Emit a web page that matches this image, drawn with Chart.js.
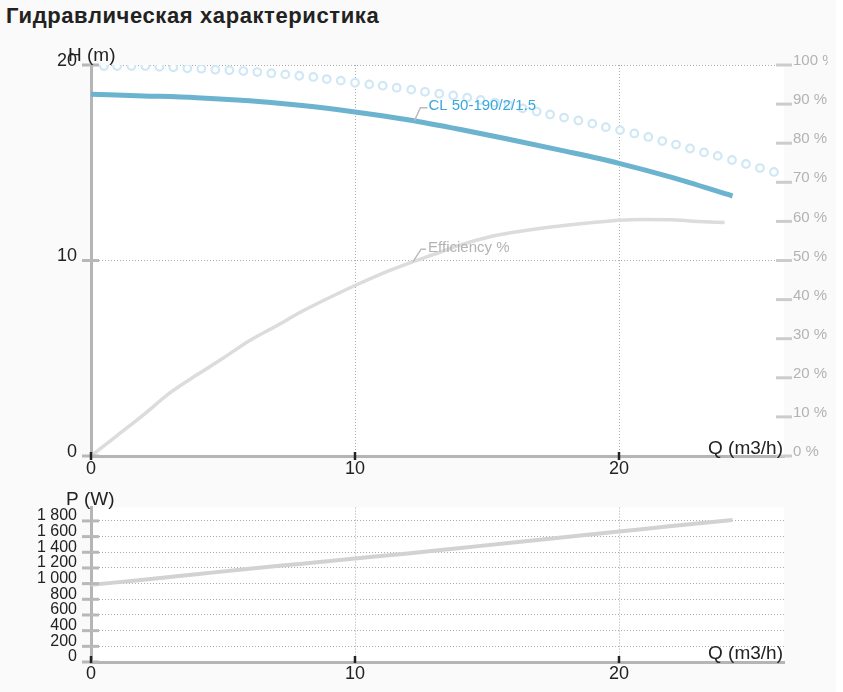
<!DOCTYPE html>
<html>
<head>
<meta charset="utf-8">
<title>Гидравлическая характеристика</title>
<script src="https://cdn.jsdelivr.net/npm/chart.js@4.4.0/dist/chart.umd.min.js"></script>
<style>
  body { margin: 0; background: #fff; }
  #wrap { position: relative; width: 836px; height: 692px; background: #fafafa; }
  h3 { position: absolute; left: 6px; top: 5px; margin: 0; font: bold 22px/21px "Liberation Sans", Arial, sans-serif; letter-spacing: 0.6px; color: #222; }
  canvas { position: absolute; left: 0; }
</style>
</head>
<body>
<div id="wrap">
  <h3>Гидравлическая характеристика</h3>
  <canvas id="headChart" width="828" height="484" style="top:0"></canvas>
  <canvas id="powerChart" width="828" height="208" style="top:484px"></canvas>
</div>
<script>
// head curve CL 50-190/2/1.5
const headFlow = [0, 2, 4, 6, 8, 10, 12, 14, 16, 18, 20, 22, 24.3];
const headValues = [18.5, 18.42, 18.33, 18.17, 17.93, 17.6, 17.2, 16.7, 16.15, 15.58, 14.97, 14.25, 13.3];

// dotted (circles) curve
const dotFlow = [0.49, 0.99, 1.53, 2.06, 2.59, 3.12, 3.65, 4.18, 4.71, 5.24, 5.77, 6.30, 6.83, 7.36, 7.89,
  8.42, 8.93, 9.46, 10.0, 10.54, 11.05, 11.58, 12.13, 12.65, 13.19, 13.72, 14.25, 14.76, 15.30, 15.81,
  16.35, 16.88, 17.39, 17.92, 18.46, 18.99, 19.50, 20.04, 20.58, 21.11, 21.64, 22.16, 22.69, 23.22,
  23.74, 24.28, 24.81, 25.34, 25.87];
const dotValues = [19.95, 19.95, 19.95, 19.95, 19.91, 19.88, 19.83, 19.81, 19.76, 19.73, 19.69, 19.64, 19.58,
  19.52, 19.45, 19.39, 19.28, 19.20, 19.09, 19.01, 18.94, 18.84, 18.74, 18.63, 18.53, 18.44, 18.33, 18.21,
  18.08, 17.95, 17.78, 17.62, 17.47, 17.31, 17.16, 17.00, 16.82, 16.67, 16.50, 16.32, 16.11, 15.93, 15.73,
  15.53, 15.35, 15.14, 14.94, 14.73, 14.53];

// efficiency %
const effFlow = [0, 1, 2, 3, 4, 5, 6, 7, 8, 9, 10, 11, 12, 13, 14, 15, 16, 17, 18, 19, 20, 21, 22, 23, 24];
const effValues = [0, 5.3, 10.6, 16.2, 20.7, 25.0, 29.5, 33.2, 37.0, 40.4, 43.6, 46.6, 49.2, 51.6, 54.0,
  55.9, 57.2, 58.2, 59.0, 59.7, 60.3, 60.5, 60.4, 60.0, 59.7];

// power W
const powerFlow = [0, 2, 4, 6, 8, 10, 12, 14, 16, 18, 20, 22, 24.3];
const powerValues = [985, 1050, 1120, 1190, 1255, 1320, 1385, 1455, 1525, 1595, 1665, 1735, 1812];

const flowTicks = [0, 10, 20];
const headTicks = [0, 10, 20];
const effTicks = [0, 10, 20, 30, 40, 50, 60, 70, 80, 90, 100];
const powerTicks = [0, 200, 400, 600, 800, 1000, 1200, 1400, 1600, 1800];

const curveName = 'CL 50-190/2/1.5';
const effName = 'Efficiency %';

const pts = (xs, ys) => xs.map((x, i) => ({x: x, y: ys[i]}));

Chart.defaults.font.family = "'Liberation Sans', Arial, sans-serif";
Chart.defaults.color = '#222';

const GRID = '#aaaaaa';
const hideZero = ctx => (ctx.tick && ctx.tick.value === 0 ? 'transparent' : GRID);

const plotBg = {
  id: 'plotBg',
  beforeDraw(chart) {
    const {ctx, chartArea: a} = chart;
    ctx.save();
    ctx.fillStyle = '#fff';
    ctx.fillRect(a.left, a.top, a.right - a.left, a.bottom - a.top);
    ctx.restore();
  }
};

function line(ctx, x1, y1, x2, y2) {
  ctx.beginPath();
  ctx.moveTo(x1, y1);
  ctx.lineTo(x2, y2);
  ctx.stroke();
}

const tickMarks = {
  id: 'tickMarks',
  afterDatasetsDraw(chart, args, opts) {
    const {ctx, chartArea: a, scales} = chart;
    ctx.save();
    ctx.lineWidth = 3;
    ctx.strokeStyle = '#b8b8b8';
    scales.y.ticks.forEach(t => {
      const y = scales.y.getPixelForValue(t.value);
      line(ctx, a.left - 9, y, a.left + 8, y);
    });
    if (scales.y2) {
      ctx.strokeStyle = '#cccccc';
      scales.y2.ticks.forEach(t => {
        const y = scales.y2.getPixelForValue(t.value);
        line(ctx, a.right - 8, y, a.right + 8, y);
      });
    }
    ctx.strokeStyle = '#222';
    ctx.lineWidth = 2.5;
    scales.x.ticks.forEach(t => {
      const x = scales.x.getPixelForValue(t.value);
      line(ctx, x, a.bottom + opts.up, x, a.bottom + opts.down);
    });
    ctx.restore();
  }
};

// axis names and curve labels
const headTexts = {
  id: 'headTexts',
  afterDraw(chart) {
    const {ctx, chartArea: a, scales} = chart;
    ctx.save();
    ctx.font = "19px 'Liberation Sans', Arial, sans-serif";
    ctx.fillStyle = '#222';
    ctx.textBaseline = 'alphabetic';
    ctx.textAlign = 'left';
    ctx.fillText('H (m)', a.left - 23, a.top - 4);
    ctx.textAlign = 'right';
    ctx.fillText('Q (m3/h)', a.right - 1, a.bottom - 2);

    ctx.font = "15px 'Liberation Sans', Arial, sans-serif";
    ctx.textAlign = 'left';
    ctx.textBaseline = 'middle';
    ctx.lineWidth = 1.5;

    let px = scales.x.getPixelForValue(12.25);
    let py = scales.y.getPixelForValue(17.15);
    ctx.strokeStyle = '#bbbbbb';
    ctx.beginPath();
    ctx.moveTo(px, py);
    ctx.lineTo(px + 6, py - 13);
    ctx.lineTo(px + 13, py - 13);
    ctx.stroke();
    ctx.fillStyle = '#3aa7dc';
    ctx.fillText(curveName, px + 14, py - 14.5);

    px = scales.x.getPixelForValue(12.2);
    py = scales.y2.getPixelForValue(49.7);
    ctx.beginPath();
    ctx.moveTo(px, py);
    ctx.lineTo(px + 8, py - 12.5);
    ctx.lineTo(px + 13, py - 12.5);
    ctx.stroke();
    ctx.fillStyle = '#b3b3b3';
    ctx.fillText(effName, px + 15, py - 13.5);
    ctx.restore();
  }
};

const powerTexts = {
  id: 'powerTexts',
  afterDraw(chart) {
    const {ctx, chartArea: a} = chart;
    ctx.save();
    ctx.font = "19px 'Liberation Sans', Arial, sans-serif";
    ctx.fillStyle = '#222';
    ctx.textBaseline = 'alphabetic';
    ctx.textAlign = 'left';
    ctx.fillText('P (W)', a.left - 25, a.top - 3);
    ctx.textAlign = 'right';
    ctx.fillText('Q (m3/h)', a.right - 1, a.bottom - 3);
    ctx.restore();
  }
};

const xScale = (pad) => ({
  type: 'linear',
  min: 0,
  max: 26.25,
  afterBuildTicks: s => { s.ticks = flowTicks.map(v => ({value: v})); },
  ticks: { padding: pad, font: {size: 18}, color: '#222', autoSkip: false, maxRotation: 0 },
  grid: { color: hideZero, lineWidth: 1, drawTicks: false },
  border: { display: true, color: '#b5b5b5', width: 3, dash: [1, 2] }
});

new Chart(document.getElementById('headChart'), {
  type: 'line',
  data: {
    datasets: [
      {
        label: curveName,
        data: pts(headFlow, headValues),
        yAxisID: 'y',
        borderColor: '#6bb3cf',
        borderWidth: 5,
        pointRadius: 0,
        cubicInterpolationMode: 'monotone',
        order: 1
      },
      {
        label: effName,
        data: pts(effFlow, effValues),
        yAxisID: 'y2',
        borderColor: '#dcdcdc',
        borderWidth: 3.5,
        pointRadius: 0,
        cubicInterpolationMode: 'monotone',
        order: 2
      },
      {
        label: 'dots',
        data: pts(dotFlow, dotValues),
        yAxisID: 'y',
        showLine: false,
        pointRadius: 3.8,
        pointBorderWidth: 2.2,
        pointBorderColor: '#d0e8f5',
        pointBackgroundColor: '#ffffff',
        order: 3
      }
    ]
  },
  options: {
    responsive: false,
    animation: false,
    layout: { padding: { top: 65, left: 0, right: 0, bottom: 0 } },
    plugins: {
      legend: { display: false },
      tooltip: { enabled: false },
      tickMarks: { up: -4, down: 4 }
    },
    scales: {
      x: Object.assign(xScale(2), { afterFit: s => { s.height = 28; } }),
      y: {
        type: 'linear',
        position: 'left',
        min: 0,
        max: 20,
        afterBuildTicks: s => { s.ticks = headTicks.map(v => ({value: v})); },
        afterFit: s => { s.width = 91; },
        ticks: { padding: 14, labelOffset: -4, font: {size: 18}, color: '#222', autoSkip: false },
        grid: { color: hideZero, lineWidth: 1, drawTicks: false },
        border: { display: true, color: '#b5b5b5', width: 3, dash: [1, 2] }
      },
      y2: {
        type: 'linear',
        position: 'right',
        min: 0,
        max: 100,
        afterBuildTicks: s => { s.ticks = effTicks.map(v => ({value: v})); },
        afterFit: s => { s.width = 44; },
        ticks: { padding: 9, labelOffset: -4, font: {size: 15}, color: '#b3b3b3', autoSkip: false, callback: v => v + ' %' },
        grid: { display: false, drawTicks: false },
        border: { display: false }
      }
    }
  },
  plugins: [plotBg, tickMarks, headTexts]
});

const fmtPower = v => (v >= 1000 ? Math.floor(v / 1000) + ' ' + String(v % 1000).padStart(3, '0') : String(v));

new Chart(document.getElementById('powerChart'), {
  type: 'line',
  data: {
    datasets: [{
      label: 'P',
      data: pts(powerFlow, powerValues),
      borderColor: '#d2d2d2',
      borderWidth: 4,
      pointRadius: 0,
      cubicInterpolationMode: 'monotone'
    }]
  },
  options: {
    responsive: false,
    animation: false,
    layout: { padding: { top: 22, left: 0, right: 44, bottom: 0 } },
    plugins: {
      legend: { display: false },
      tooltip: { enabled: false },
      tickMarks: { up: -6, down: 1 }
    },
    scales: {
      x: Object.assign(xScale(1), { afterFit: s => { s.height = 30; } }),
      y: {
        type: 'linear',
        position: 'left',
        min: 0,
        max: 1970,
        afterBuildTicks: s => { s.ticks = powerTicks.map(v => ({value: v})); },
        afterFit: s => { s.width = 91; },
        ticks: { padding: 14, labelOffset: -5, font: {size: 16}, color: '#222', autoSkip: false, callback: fmtPower },
        grid: { color: hideZero, lineWidth: 1, drawTicks: false },
        border: { display: true, color: '#b5b5b5', width: 3, dash: [1, 2] }
      }
    }
  },
  plugins: [plotBg, tickMarks, powerTexts]
});
</script>
</body>
</html>
